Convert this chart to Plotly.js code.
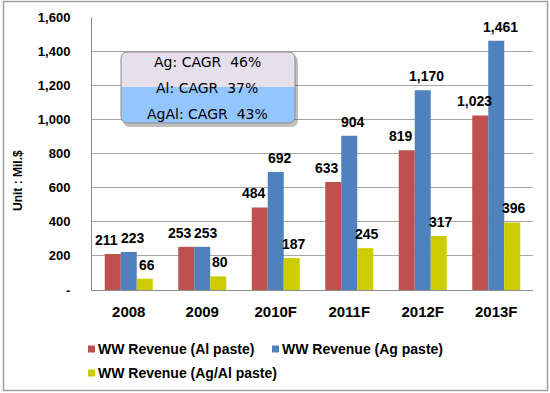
<!DOCTYPE html>
<html>
<head>
<meta charset="utf-8">
<script src="https://cdn.plot.ly/plotly-3.0.1.min.js"></script>
<style>html,body{margin:0;padding:0;background:#fff;}#chart{width:550px;height:393px;}</style>
</head>
<body>
<div id="chart"></div>
<script>
const years = ["2008", "2009", "2010F", "2011F", "2012F", "2013F"];
const alPaste = [211, 253, 484, 633, 819, 1023];
const agPaste = [223, 253, 692, 904, 1170, 1461];
const agAlPaste = [66, 80, 187, 245, 317, 396];
const seriesNames = ["WW Revenue (Al paste)", "WW Revenue (Ag paste)", "WW Revenue (Ag/Al paste)"];
const seriesColors = ["#C0504D", "#4F81BD", "#CCCC00"];
const cagrLines = ["Ag: CAGR  46%", "Al: CAGR  37%", "AgAl: CAGR  43%"];
const yTickVals = [0, 200, 400, 600, 800, 1000, 1200, 1400, 1600];
const yTickText = ["-", "200", "400", "600", "800", "1,000", "1,200", "1,400", "1,600"];

const W = 550, H = 393;
const M = {l: 92, r: 17, t: 17, b: 103};
const PW = W - M.l - M.r, PH = H - M.t - M.b;
const px = x => (x - M.l) / PW;          // pixel -> paper x
const py = y => (H - M.b - y) / PH;      // pixel -> paper y
const bargap = 0.347;
const barPx = (PW / years.length) * (1 - bargap) / 3;

const seriesData = [alPaste, agPaste, agAlPaste];
const traces = seriesData.map((vals, i) => ({
  type: 'bar', x: years, y: vals, name: seriesNames[i],
  marker: {color: seriesColors[i], line: {width: 0}},
  hoverinfo: 'x+y', showlegend: false
}));

const fmt = v => v.toLocaleString('en-US');
const nudges = [-6, 4, 2];
const annotations = [];
seriesData.forEach((vals, i) => {
  vals.forEach((v, j) => {
    annotations.push({
      x: j, y: v, xref: 'x', yref: 'y', text: fmt(v), showarrow: false,
      xanchor: 'center', yanchor: 'bottom', yshift: 4,
      xshift: (i - 1) * barPx + nudges[i],
      font: {family: 'Arial, Liberation Sans', size: 14, color: '#000', weight: 'bold'}
    });
  });
});

// y-axis title
annotations.push({
  xref: 'paper', yref: 'paper', x: px(18), y: py(181), text: 'Unit : Mil.$',
  textangle: -90, showarrow: false, xanchor: 'center', yanchor: 'middle',
  font: {family: 'Arial, Liberation Sans', size: 12, color: '#000', weight: 'bold'}
});

// CAGR box text
const boxX0 = 121, boxX1 = 295, boxY0 = 52, boxY1 = 123, boxMid = 87, rad = 7;
const cagrY = [62, 88, 114];
cagrLines.forEach((t, i) => {
  annotations.push({
    xref: 'paper', yref: 'paper', x: px((boxX0 + boxX1) / 2 - 1), y: py(cagrY[i]), text: t,
    showarrow: false, xanchor: 'center', yanchor: 'middle',
    font: {family: 'DejaVu Sans, sans-serif', size: 14, color: '#000'}
  });
});

// custom legend
const legItems = [
  {sx: 88, y: 349}, {sx: 272, y: 349}, {sx: 88, y: 373}
];
const shapes = [];
legItems.forEach((it, i) => {
  shapes.push({type: 'rect', xref: 'paper', yref: 'paper',
    x0: px(it.sx), x1: px(it.sx + 7), y0: py(it.y - 3.5), y1: py(it.y + 3.5),
    fillcolor: seriesColors[i], line: {width: 0}});
  annotations.push({
    xref: 'paper', yref: 'paper', x: px(it.sx + 8), y: py(it.y), text: seriesNames[i],
    showarrow: false, xanchor: 'left', yanchor: 'middle',
    font: {family: 'Arial, Liberation Sans', size: 14, color: '#000', weight: 'bold'}
  });
});

// rounded rect path in paper coords
function rrPath(x0, y0, x1, y1, r, top, bottom) {
  const P = (x, y) => px(x) + ',' + py(y);
  let d = '';
  if (top) {
    d += 'M' + P(x0, y0 + r) + ' Q' + P(x0, y0) + ' ' + P(x0 + r, y0) +
         ' L' + P(x1 - r, y0) + ' Q' + P(x1, y0) + ' ' + P(x1, y0 + r);
  } else {
    d += 'M' + P(x0, y0) + ' L' + P(x1, y0);
  }
  if (bottom) {
    d += ' L' + P(x1, y1 - r) + ' Q' + P(x1, y1) + ' ' + P(x1 - r, y1) +
         ' L' + P(x0 + r, y1) + ' Q' + P(x0, y1) + ' ' + P(x0, y1 - r);
  } else {
    d += ' L' + P(x1, y1) + ' L' + P(x0, y1);
  }
  return d + ' Z';
}

// shadow
shapes.push({type: 'path', xref: 'paper', yref: 'paper', layer: 'above',
  path: rrPath(boxX0 + 2, boxY0 + 3, boxX1 + 3, boxY1 + 4, rad, true, true),
  fillcolor: 'rgba(0,0,0,0.25)', line: {width: 0}});
shapes.push({type: 'path', xref: 'paper', yref: 'paper', layer: 'above',
  path: rrPath(boxX0, boxY0, boxX1, boxMid, rad, true, false),
  fillcolor: '#E6E0EC', line: {width: 0}});
shapes.push({type: 'path', xref: 'paper', yref: 'paper', layer: 'above',
  path: rrPath(boxX0, boxMid, boxX1, boxY1, rad, false, true),
  fillcolor: '#93C5FF', line: {width: 0}});
shapes.push({type: 'path', xref: 'paper', yref: 'paper', layer: 'above',
  path: rrPath(boxX0, boxY0, boxX1, boxY1, rad, true, true),
  fillcolor: 'rgba(0,0,0,0)', line: {color: '#8C8C8C', width: 1}});

// outer border
shapes.push({type: 'rect', xref: 'paper', yref: 'paper',
  x0: px(3.5), x1: px(547.5), y0: py(1.5), y1: py(390.5),
  fillcolor: 'rgba(0,0,0,0)', line: {color: '#A0A0A0', width: 1.5}, layer: 'below'});

const layout = {
  width: W, height: H, margin: M,
  paper_bgcolor: '#fff', plot_bgcolor: '#fff',
  barmode: 'group', bargap: bargap, bargroupgap: 0,
  showlegend: false,
  xaxis: {
    type: 'category', range: [-0.5, years.length - 0.5],
    showgrid: false, showline: true, linecolor: '#8C8C8C', linewidth: 1,
    ticks: '', ticklabelstandoff: 8,
    tickfont: {family: 'Arial, Liberation Sans', size: 15, color: '#000', weight: 'bold'}
  },
  yaxis: {
    range: [0, 1600], tickvals: yTickVals, ticktext: yTickText,
    showgrid: true, gridcolor: '#A6A6A6', gridwidth: 1,
    showline: true, linecolor: '#8C8C8C', linewidth: 1, zeroline: false,
    ticks: '', ticklabelstandoff: 18,
    tickfont: {family: 'Arial, Liberation Sans', size: 13, color: '#000', weight: 'bold'}
  },
  annotations: annotations, shapes: shapes
};

Plotly.newPlot('chart', traces, layout, {displayModeBar: false, staticPlot: true});
</script>
</body>
</html>
